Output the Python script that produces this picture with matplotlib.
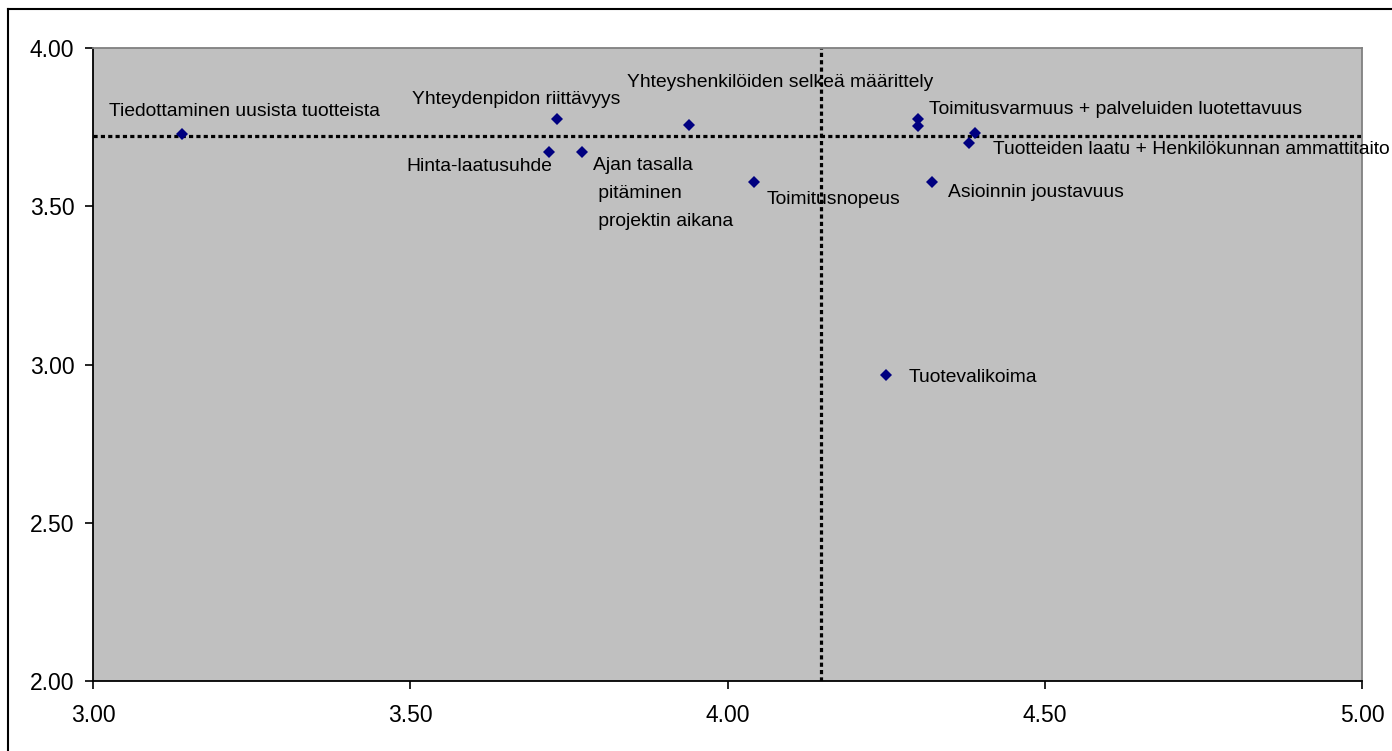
import matplotlib.pyplot as plt
from matplotlib.lines import Line2D
from matplotlib.ticker import FormatStrFormatter

# Satisfaction / importance scores per attribute
labels = [
    'Tiedottaminen uusista tuotteista',
    'Yhteydenpidon riittävyys',
    'Hinta-laatusuhde',
    'Ajan tasalla\n pitäminen\n projektin aikana',
    'Yhteyshenkilöiden selkeä määrittely',
    'Toimitusnopeus',
    'Toimitusvarmuus + palveluiden luotettavuus',
    '',
    'Tuotteiden laatu + Henkilökunnan ammattitaito',
    '',
    'Asioinnin joustavuus',
    'Tuotevalikoima',
]
x_vals = [3.140, 3.731, 3.719, 3.771, 3.939, 4.042, 4.301, 4.301, 4.390, 4.381, 4.322, 4.250]
y_vals = [3.727, 3.775, 3.670, 3.671, 3.758, 3.576, 3.776, 3.755, 3.730, 3.699, 3.576, 2.967]

# reference lines
x_ref = 4.147
y_ref = 3.722

# label placement: (dx, dy) in points from the marker, horizontal alignment
offsets = [
    (-52.3, 13.2, 'left'),
    (-104.0, 11.0, 'left'),
    (2.0, -13.5, 'right'),
    (7.9, -12.7, 'left'),
    (-44.4, 27.1, 'left'),
    (9.1, -15.6, 'left'),
    (7.6, 3.4, 'left'),
    None,
    (13.2, -15.1, 'left'),
    None,
    (12.0, -10.6, 'left'),
    (16.0, -4.8, 'left'),
]

plt.rcParams['font.family'] = ['Liberation Sans', 'DejaVu Sans']

W, H = 1392, 751
fig = plt.figure(figsize=(W / 100, H / 100), dpi=100)
ax = fig.add_axes([93 / W, 1 - 681 / H, (1362 - 93) / W, (681 - 48) / H])
ax.set_facecolor('#c0c0c0')

ax.set_xlim(3.0, 5.0)
ax.set_ylim(2.0, 4.0)
ax.set_xticks([3.0, 3.5, 4.0, 4.5, 5.0])
ax.set_yticks([2.0, 2.5, 3.0, 3.5, 4.0])
ax.xaxis.set_major_formatter(FormatStrFormatter('%.2f'))
ax.yaxis.set_major_formatter(FormatStrFormatter('%.2f'))
ax.tick_params(direction='out', length=5.5, width=1.2, color='black',
               labelsize=16.5, labelcolor='black')
ax.tick_params(axis='x', pad=11)
ax.tick_params(axis='y', pad=8)

for side in ('left', 'bottom'):
    ax.spines[side].set_color('black')
    ax.spines[side].set_linewidth(1.3)
for side in ('top', 'right'):
    ax.spines[side].set_color('#808080')
    ax.spines[side].set_linewidth(1.3)

dots = (0, (1.3, 1.0))
ax.axvline(x_ref, color='black', lw=2.3, linestyle=dots, dash_capstyle='butt', zorder=2)
ax.axhline(y_ref, color='black', lw=2.3, linestyle=dots, dash_capstyle='butt', zorder=2)

ax.plot(x_vals, y_vals, linestyle='none', marker='D', markersize=5.8,
        color='#000080', markeredgewidth=0, zorder=3)

line_step = 20.2  # points between lines of a multi-line label
for xv, yv, lab, off in zip(x_vals, y_vals, labels, offsets):
    if not lab:
        continue
    dx, dy, ha = off
    for i, part in enumerate(lab.split('\n')):
        ax.annotate(part, (xv, yv), xytext=(dx, dy - i * line_step),
                    textcoords='offset points', ha=ha, va='baseline',
                    fontsize=13.85, color='black', annotation_clip=False, zorder=4)

# chart frame (runs off the right and bottom edges)
fig.add_artist(Line2D([8 / W, 8 / W], [0, 1 - 9 / H], transform=fig.transFigure,
                      color='black', lw=1.5))
fig.add_artist(Line2D([8 / W, 1], [1 - 9 / H, 1 - 9 / H], transform=fig.transFigure,
                      color='black', lw=1.5))

fig.savefig('out.png', dpi=100)
